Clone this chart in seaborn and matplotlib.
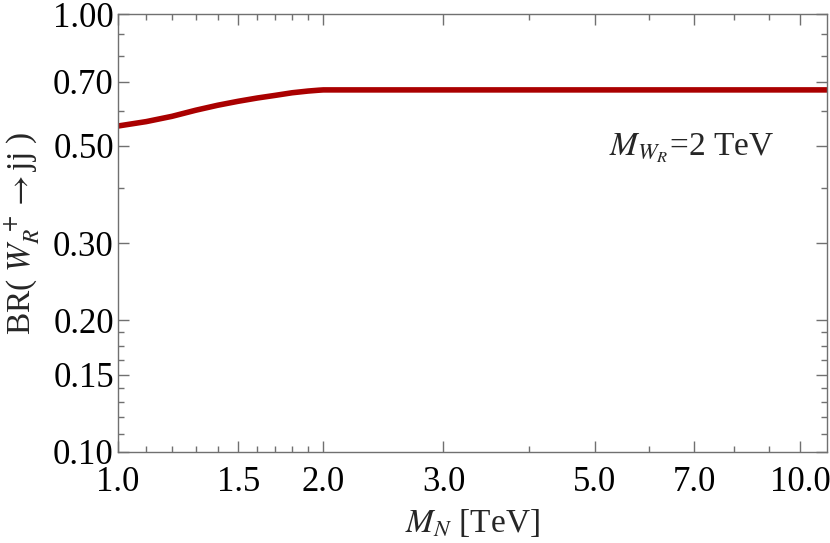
import numpy as np
import pandas as pd
import matplotlib
matplotlib.use("Agg")
import matplotlib.pyplot as plt
import matplotlib.ticker as mticker
import seaborn as sns

# valores (M_N en TeV, BR)
m_n = [1.0, 1.1, 1.2, 1.3, 1.4, 1.5, 1.6, 1.7, 1.8, 1.9, 1.97, 2.0, 3.0, 5.0, 7.0, 11.0]
br_jj = [0.555, 0.568, 0.584, 0.603, 0.619, 0.632, 0.643, 0.652, 0.661, 0.667, 0.670,
         0.671, 0.671, 0.671, 0.671, 0.671]

x_major = [1.0, 1.5, 2.0, 3.0, 5.0, 7.0, 10.0]
x_minor = [1.1, 1.2, 1.3, 1.4, 1.6, 1.7, 1.8, 1.9, 4.0, 6.0, 8.0, 9.0]
y_major = [0.10, 0.15, 0.20, 0.30, 0.50, 0.70, 1.00]
y_minor = [0.11, 0.12, 0.13, 0.14, 0.1625, 0.175, 0.1875, 0.4, 0.6, 0.8, 0.9]

df = pd.DataFrame({"MN": m_n, "BR": br_jj})

sns.set_style("ticks")
plt.rcParams['font.family'] = ['Liberation Serif', 'DejaVu Serif']
plt.rcParams['mathtext.fontset'] = 'stix'

fig = plt.figure(figsize=(8.3, 5.43), dpi=100)
ax = fig.add_axes([0.1422, 0.1676, 0.8542, 0.8066])

sns.lineplot(data=df, x="MN", y="BR", ax=ax, color="#aa0000", linewidth=4.0)

ax.set_xscale('log')
ax.set_yscale('log')
ax.set_xlim(1.0, 10.95)
ax.set_ylim(0.1, 1.0)

ax.xaxis.set_major_locator(mticker.FixedLocator(x_major))
ax.xaxis.set_minor_locator(mticker.FixedLocator(x_minor))
ax.yaxis.set_major_locator(mticker.FixedLocator(y_major))
ax.yaxis.set_minor_locator(mticker.FixedLocator(y_minor))
ax.xaxis.set_major_formatter(mticker.FixedFormatter([f"{v:.1f}" for v in x_major]))
ax.yaxis.set_major_formatter(mticker.FixedFormatter([f"{v:.2f}" for v in y_major]))
ax.xaxis.set_minor_formatter(mticker.NullFormatter())
ax.yaxis.set_minor_formatter(mticker.NullFormatter())

gris = "#707070"
for s in ax.spines.values():
    s.set_visible(True)
    s.set_color(gris)
    s.set_linewidth(1.0)
ax.tick_params(which='both', direction='in', top=True, right=True, color=gris,
               width=1.0, labelsize=25, labelcolor='black')
ax.tick_params(which='major', length=8)
ax.tick_params(axis='x', which='major', pad=10)
ax.tick_params(axis='y', which='major', pad=3)
ax.tick_params(which='minor', length=4)

ax.set_xlabel(r"$M_N$ [TeV]", fontsize=24, labelpad=6)
ax.set_ylabel(r"BR( $W_R^{\;+}$$\rightarrow$jj )", fontsize=24, labelpad=8)
ax.text(5.25, 0.494, r"$M_{W_R}$=2 TeV", fontsize=24, va='center', ha='left')

fig.savefig("out.png", dpi=100)
